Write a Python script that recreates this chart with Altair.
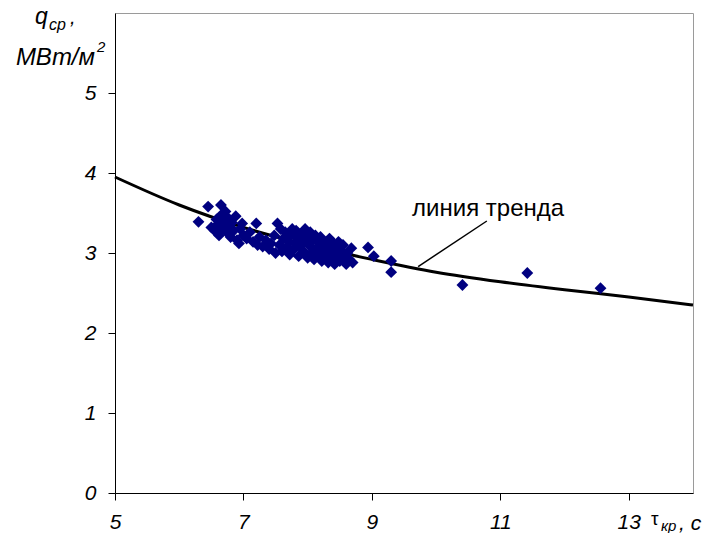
import altair as alt
import pandas as pd

# measured points: critical time tau_kp (s) and mean heat flux q_cp (MW/m^2)
tau = [6.30, 6.45, 6.50, 6.55, 6.58, 6.60, 6.62, 6.65, 6.66, 6.68, 6.70, 6.72, 6.74,
       6.76, 6.78, 6.80, 6.82, 6.85, 6.88, 6.90, 6.93, 6.95, 6.98, 7.00, 7.05, 7.10,
       7.15, 7.20, 7.22, 7.25, 7.30, 7.35, 7.40, 7.43, 7.48, 7.50, 7.53, 7.56, 7.58,
       7.60, 7.62, 7.65, 7.68, 7.70, 7.72, 7.74, 7.76, 7.78, 7.80, 7.82, 7.84, 7.86,
       7.88, 7.90, 7.92, 7.94, 7.96, 7.98, 8.00, 8.02, 8.04, 8.06, 8.08, 8.10, 8.12,
       8.14, 8.16, 8.18, 8.20, 8.22, 8.24, 8.26, 8.28, 8.30, 8.32, 8.34, 8.36, 8.38,
       8.40, 8.42, 8.44, 8.46, 8.48, 8.50, 8.52, 8.55, 8.58, 8.60, 8.62, 8.65, 8.68,
       8.70, 8.94, 9.03, 9.30, 9.30, 10.41, 11.42, 12.56]
q = [3.39, 3.58, 3.32, 3.28, 3.42, 3.36, 3.22, 3.60, 3.48, 3.30, 3.40, 3.52, 3.26,
     3.44, 3.34, 3.20, 3.38, 3.28, 3.46, 3.16, 3.12, 3.30, 3.37, 3.22, 3.18, 3.26,
     3.14, 3.37, 3.10, 3.20, 3.08, 3.16, 3.05, 3.12, 3.22, 3.00, 3.37, 3.10, 3.30,
     3.02, 3.18, 3.26, 3.08, 3.14, 2.98, 3.22, 3.30, 3.04, 3.12, 3.28, 3.18, 2.96,
     3.08, 3.24, 3.14, 3.02, 3.30, 3.20, 2.94, 3.10, 3.26, 3.00, 3.16, 2.92, 3.22,
     3.06, 2.98, 3.12, 3.20, 2.90, 3.04, 3.14, 2.96, 3.08, 2.88, 3.18, 3.02, 2.94,
     3.12, 2.86, 3.06, 2.98, 3.14, 2.90, 3.04, 3.10, 2.95, 2.86, 3.00, 2.92, 3.06,
     2.88, 3.07, 2.96, 2.90, 2.76, 2.60, 2.75, 2.56]

# trend line
trend_tau = [5, 6, 7, 8, 9, 10, 11, 12, 13, 14]
trend_q = [3.95, 3.60, 3.32, 3.10, 2.92, 2.76, 2.64, 2.54, 2.45, 2.35]

x_ticks = [5, 7, 9, 11, 13]
y_ticks = [0, 1, 2, 3, 4, 5]

# annotation: label and leader line (data coordinates)
note_text = ["линия тренда"]
note_tau = [10.81]
note_q = [3.46]
leader_tau = [10.79, 9.72]
leader_q = [3.40, 2.83]

FONT = "Liberation Sans"
W, H = 578, 480

pts = pd.DataFrame({"tau": tau, "q": q})
trend = pd.DataFrame({"tau": trend_tau, "q": trend_q})
note = pd.DataFrame({"tau": note_tau, "q": note_q, "t": note_text})
leader = pd.DataFrame({"tau": leader_tau, "q": leader_q})

xs = alt.Scale(domain=[5, 14], nice=False, zero=False)
ys = alt.Scale(domain=[0, 6], nice=False, zero=False)

xax = alt.Axis(values=x_ticks, title=None, grid=False, tickSize=7, labelPadding=11,
               format="d",
               labelFont=FONT, labelFontSize=21, labelFontStyle="italic",
               labelColor="black", domainColor="black", tickColor="black",
               labelFlush=False, labelOverlap=False)
yax = alt.Axis(values=y_ticks, title=None, grid=False, tickSize=7, labelPadding=12,
               format="d",
               labelFont=FONT, labelFontSize=21, labelFontStyle="italic",
               labelColor="black", domainColor="black", tickColor="black",
               labelFlush=False, labelOverlap=False)

trend_line = alt.Chart(trend).mark_line(color="black", strokeWidth=3,
                                        interpolate="monotone").encode(
    x=alt.X("tau:Q", scale=xs, axis=xax),
    y=alt.Y("q:Q", scale=ys, axis=yax),
)

points = alt.Chart(pts).mark_point(shape="diamond", filled=True, size=140,
                                   color="#000080", opacity=1).encode(
    x=alt.X("tau:Q", scale=xs),
    y=alt.Y("q:Q", scale=ys),
)

leader_line = alt.Chart(leader).mark_line(color="black", strokeWidth=1.5).encode(
    x=alt.X("tau:Q", scale=xs),
    y=alt.Y("q:Q", scale=ys),
)

note_label = alt.Chart(note).mark_text(font=FONT, fontSize=24, color="black",
                                       align="center", baseline="alphabetic").encode(
    x=alt.X("tau:Q", scale=xs),
    y=alt.Y("q:Q", scale=ys),
    text="t:N",
)

one = pd.DataFrame({"k": [0]})


def txt(s, px, py, size, italic=True, align="left"):
    kw = dict(text=s, font=FONT, fontSize=size, color="black", align=align,
              baseline="alphabetic")
    if italic:
        kw["fontStyle"] = "italic"
    return alt.Chart(one).mark_text(**kw).encode(x=alt.value(px), y=alt.value(py))


titles = [
    txt("q", -80, 11, 23),
    txt("ср", -66, 17, 16),
    txt(",", -45, 11, 20),
    txt("МВт/м", -20, 52, 24, align="right"),
    txt("2", -18, 39, 15),
    txt("τ", 536, 512, 19, italic=False),
    txt("кр", 546, 518, 15),
    txt(", с", 564, 517, 21),
]

chart = alt.layer(trend_line, points, leader_line, note_label, *titles).properties(
    width=W, height=H,
    autosize=alt.AutoSizeParams(type="none"),
    padding={"left": 107, "top": 5, "right": 15, "bottom": 40},
).configure_view(stroke="#9a9a9a", strokeWidth=1)

chart.save("out.html", embed_options={"renderer": "svg", "actions": False})
